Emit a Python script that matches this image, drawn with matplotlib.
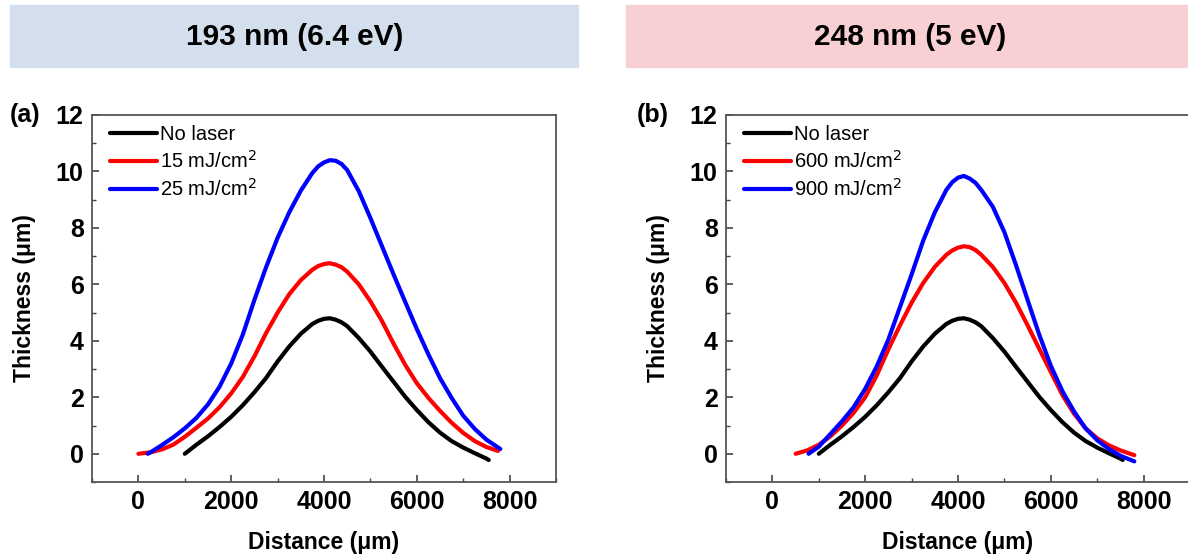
import numpy as np
import matplotlib.pyplot as plt
from matplotlib.patches import Rectangle
from matplotlib.ticker import MultipleLocator

plt.rcParams['font.family'] = ['Liberation Sans', 'DejaVu Sans']

# No laser (same reference profile in both panels)
x_ref = [1000, 1250, 1500, 1750, 2000, 2250, 2500, 2750, 3000, 3250, 3500, 3750, 3875, 4000, 4125, 4250,
         4375, 4500, 4750, 5000, 5250, 5500, 5750, 6000, 6250, 6500, 6750, 7000, 7250, 7500, 7550]
y_ref = [0.0, 0.32, 0.62, 0.95, 1.31, 1.72, 2.18, 2.68, 3.27, 3.80, 4.25, 4.60, 4.71, 4.78, 4.80, 4.75,
         4.66, 4.52, 4.10, 3.62, 3.08, 2.55, 2.02, 1.55, 1.12, 0.75, 0.45, 0.22, 0.02, -0.17, -0.22]

# 193 nm, 15 mJ/cm2
x_a15 = [0, 250, 500, 750, 1000, 1250, 1500, 1750, 2000, 2250, 2500, 2750, 3000, 3250, 3500, 3750, 3875,
         4000, 4125, 4250, 4375, 4500, 4750, 5000, 5250, 5500, 5750, 6000, 6250, 6500, 6750, 7000, 7250,
         7500, 7750]
y_a15 = [0.0, 0.05, 0.15, 0.32, 0.60, 0.92, 1.25, 1.65, 2.14, 2.72, 3.45, 4.27, 5.00, 5.65, 6.15, 6.52, 6.65,
         6.72, 6.75, 6.70, 6.61, 6.45, 6.00, 5.40, 4.70, 3.90, 3.15, 2.50, 1.98, 1.52, 1.10, 0.74, 0.45,
         0.24, 0.10]

# 193 nm, 25 mJ/cm2
x_a25 = [200, 250, 500, 750, 1000, 1250, 1500, 1750, 2000, 2250, 2500, 2750, 3000, 3250, 3500, 3750, 3875,
         4000, 4125, 4250, 4375, 4500, 4750, 5000, 5250, 5500, 5750, 6000, 6250, 6500, 6750, 7000, 7250,
         7500, 7800]
y_a25 = [0.0, 0.04, 0.30, 0.58, 0.90, 1.27, 1.75, 2.38, 3.20, 4.22, 5.45, 6.60, 7.65, 8.55, 9.32, 9.95, 10.18,
         10.32, 10.40, 10.38, 10.27, 10.05, 9.30, 8.35, 7.35, 6.35, 5.38, 4.42, 3.52, 2.68, 1.98, 1.35, 0.88,
         0.50, 0.17]

# 248 nm, 600 mJ/cm2
x_b600 = [500, 750, 1000, 1250, 1500, 1750, 2000, 2250, 2500, 2750, 3000, 3250, 3500, 3750, 3875, 4000,
          4125, 4250, 4375, 4500, 4750, 5000, 5250, 5500, 5750, 6000, 6250, 6500, 6750, 7000, 7250, 7500, 7800]
y_b600 = [0.0, 0.12, 0.32, 0.62, 1.0, 1.45, 2.0, 2.78, 3.70, 4.55, 5.35, 6.05, 6.62, 7.05, 7.20, 7.30,
          7.35, 7.32, 7.22, 7.05, 6.62, 6.05, 5.35, 4.55, 3.72, 2.90, 2.08, 1.42, 0.90, 0.55, 0.30, 0.12, -0.05]

# 248 nm, 900 mJ/cm2
x_b900 = [780, 1000, 1250, 1500, 1750, 2000, 2250, 2500, 2750, 3000, 3250, 3500, 3750, 3875, 4000,
          4125, 4250, 4375, 4500, 4750, 5000, 5250, 5500, 5750, 6000, 6250, 6500, 6750, 7000, 7250, 7500, 7800]
y_b900 = [0.0, 0.25, 0.70, 1.15, 1.65, 2.30, 3.10, 4.05, 5.20, 6.35, 7.55, 8.55, 9.35, 9.62, 9.78,
          9.84, 9.75, 9.60, 9.35, 8.75, 7.85, 6.68, 5.45, 4.22, 3.12, 2.22, 1.50, 0.90, 0.48, 0.17, -0.07, -0.27]

headers = ['193 nm (6.4 eV)', '248 nm (5 eV)']
header_colors = ['#d4dfee', '#f8cfd2']
panel_tags = ['(a)', '(b)']
labels_a = ['No laser', '15 mJ/cm$^2$', '25 mJ/cm$^2$']
labels_b = ['No laser', '600 mJ/cm$^2$', '900 mJ/cm$^2$']
colors = ['black', '#ff0000', '#0000ff']

W, H = 1188, 556
fig = plt.figure(figsize=(W / 100, H / 100), dpi=100)

# header boxes
fig.patches.append(Rectangle((10 / W, 1 - 67 / H), 568 / W, 62 / H, transform=fig.transFigure,
                             color=header_colors[0], zorder=0))
fig.patches.append(Rectangle((626 / W, 1 - 67 / H), (W - 626) / W, 62 / H, transform=fig.transFigure,
                             color=header_colors[1], zorder=0))
fig.text(295 / W, 1 - 37 / H, headers[0], ha='center', va='center', fontsize=21.5, fontweight='bold')
fig.text(910 / W, 1 - 37 / H, headers[1], ha='center', va='center', fontsize=21.5, fontweight='bold')

ax1 = fig.add_axes([92 / W, 1 - 482 / H, 464 / W, 367 / H])
ax2 = fig.add_axes([726 / W, 1 - 482 / H, 464 / W, 367 / H])

series = [
    (ax1, [(x_ref, y_ref), (x_a15, y_a15), (x_a25, y_a25)], labels_a),
    (ax2, [(x_ref, y_ref), (x_b600, y_b600), (x_b900, y_b900)], labels_b),
]

for i, (ax, data, labels) in enumerate(series):
    for (x, y), lab, c in zip(data, labels, colors):
        ax.plot(x, y, color=c, lw=3, label=lab, solid_capstyle='round', solid_joinstyle='round')
    ax.set_xlim(-1000, 9000)
    ax.set_ylim(-1, 12)
    ax.xaxis.set_major_locator(MultipleLocator(2000))
    ax.xaxis.set_minor_locator(MultipleLocator(1000))
    ax.yaxis.set_major_locator(MultipleLocator(2))
    ax.yaxis.set_minor_locator(MultipleLocator(1))
    ax.tick_params(which='both', direction='in', top=False, right=False, color='#444444')
    ax.tick_params(which='major', length=5, width=1.2, labelsize=18, pad=6)
    ax.tick_params(which='minor', length=3, width=1.0)
    for t in ax.get_xticklabels() + ax.get_yticklabels():
        t.set_fontweight('bold')
    for s in ax.spines.values():
        s.set_color('#555555')
        s.set_linewidth(1.3)
    ax.set_xlabel('Distance (\u03bcm)', fontsize=16.5, fontweight='bold', labelpad=12)
    ax.set_ylabel('Thickness (\u03bcm)', fontsize=16.5, fontweight='bold', labelpad=14)
    ax.legend(loc='upper left', bbox_to_anchor=(0.018, 1.0), frameon=False, fontsize=14.5,
              handlelength=2.3, handletextpad=0.15, borderaxespad=0.1, labelspacing=0.3)

fig.text(10 / W, 1 - 115 / H, panel_tags[0], ha='left', va='center', fontsize=18, fontweight='bold')
fig.text(637 / W, 1 - 115 / H, panel_tags[1], ha='left', va='center', fontsize=18, fontweight='bold')

plt.savefig('out.png', dpi=100)
